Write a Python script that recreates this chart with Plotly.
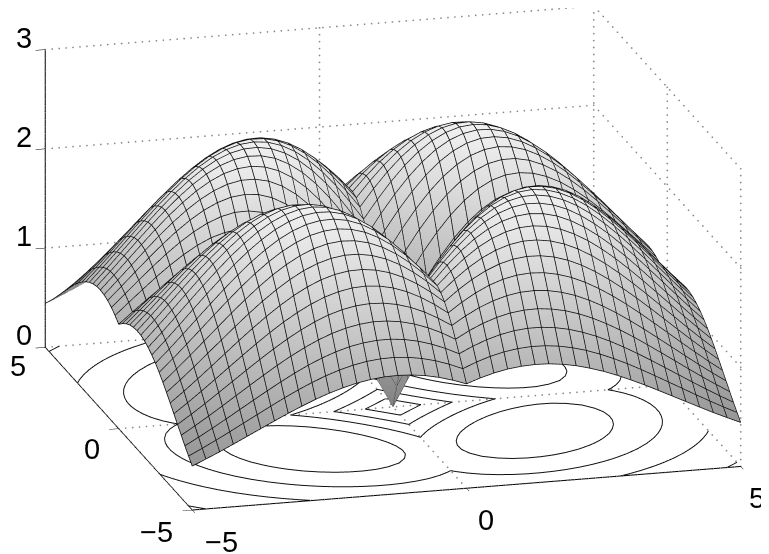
"""Surface with a contour map on the floor, grey box and dotted grid."""
import numpy as np
import plotly.graph_objects as go

# heights read for one quadrant, x and y from 0 to 5 in steps of 0.25
# row i holds columns j = i..20, the other quadrants mirror it
QUADRANT = [
    [0, .249, .492, .724, .939, 1.134, 1.303, 1.445, 1.558, 1.640, 1.692, 1.714, 1.709, 1.680, 1.628, 1.557, 1.472, 1.374, 1.269, 1.160, 1.048],
    [.496, .735, .962, 1.170, 1.355, 1.514, 1.645, 1.745, 1.815, 1.853, 1.863, 1.844, 1.802, 1.737, 1.654, 1.557, 1.450, 1.334, 1.216, 1.096],
    [.969, 1.188, 1.387, 1.563, 1.711, 1.829, 1.917, 1.973, 1.998, 1.995, 1.963, 1.908, 1.831, 1.737, 1.630, 1.512, 1.388, 1.262, 1.135],
    [1.398, 1.587, 1.751, 1.887, 1.993, 2.068, 2.111, 2.123, 2.107, 2.063, 1.996, 1.908, 1.804, 1.687, 1.561, 1.429, 1.296, 1.164],
    [1.765, 1.917, 2.040, 2.133, 2.195, 2.225, 2.225, 2.196, 2.141, 2.063, 1.966, 1.853, 1.728, 1.595, 1.457, 1.318, 1.181],
    [2.057, 2.167, 2.247, 2.296, 2.314, 2.301, 2.262, 2.196, 2.109, 2.003, 1.883, 1.752, 1.613, 1.471, 1.328, 1.188],
    [2.264, 2.332, 2.368, 2.374, 2.351, 2.302, 2.228, 2.133, 2.020, 1.894, 1.758, 1.616, 1.470, 1.325, 1.184],
    [2.387, 2.412, 2.407, 2.375, 2.317, 2.235, 2.134, 2.016, 1.886, 1.747, 1.602, 1.455, 1.310, 1.168],
    [2.426, 2.412, 2.371, 2.306, 2.219, 2.113, 1.992, 1.859, 1.719, 1.574, 1.428, 1.283, 1.143],
    [2.390, 2.342, 2.272, 2.180, 2.072, 1.949, 1.816, 1.676, 1.532, 1.387, 1.245, 1.107],
    [2.289, 2.214, 2.120, 2.011, 1.888, 1.756, 1.618, 1.477, 1.336, 1.197, 1.064],
    [2.137, 2.042, 1.933, 1.812, 1.682, 1.548, 1.411, 1.275, 1.141, 1.013],
    [1.948, 1.840, 1.722, 1.597, 1.467, 1.336, 1.205, 1.078, .955],
    [1.736, 1.622, 1.502, 1.378, 1.254, 1.129, 1.009, .894],
    [1.514, 1.400, 1.283, 1.165, 1.049, .936, .828],
    [1.293, 1.184, 1.074, .966, .861, .761],
    [1.083, .982, .882, .786, .694],
    [.889, .798, .710, .627],
    [.716, .637, .561],
    [.566, .499],
    [.439],
]
GRID_STEP = 0.25
CONTOUR_LEVELS = [0.5, 1.0, 1.5, 2.0]
X_TICKS = [-5, 0, 5]
Y_TICKS = [-5, 0, 5]
Z_TICKS = [0, 1, 2, 3]
X_LABELS = ["\u22125", "0", "5"]
Y_LABELS = ["\u22125", "0", "5"]
Z_LABELS = ["0", "1", "2", "3"]

n = len(QUADRANT)
quad = np.zeros((n, n))
for i, row in enumerate(QUADRANT):
    for j, v in enumerate(row):
        quad[i, i + j] = v
        quad[i + j, i] = v
z = np.vstack([quad[:0:-1], quad])
z = np.hstack([z[:, :0:-1], z])
xs = np.arange(-n + 1, n) * GRID_STEP
ys = xs.copy()


def contour_segments(level):
    """Marching squares over the height table, returns x and y with gaps."""
    out_x, out_y = [], []
    for i in range(len(ys) - 1):
        for j in range(len(xs) - 1):
            corners = [(xs[j], ys[i], z[i, j]), (xs[j + 1], ys[i], z[i, j + 1]),
                       (xs[j + 1], ys[i + 1], z[i + 1, j + 1]), (xs[j], ys[i + 1], z[i + 1, j])]
            hits = []
            for k in range(4):
                a, b = corners[k], corners[(k + 1) % 4]
                if (a[2] - level) * (b[2] - level) < 0:
                    t = (level - a[2]) / (b[2] - a[2])
                    hits.append((a[0] + t * (b[0] - a[0]), a[1] + t * (b[1] - a[1])))
            for p in range(0, len(hits) - 1, 2):
                out_x += [hits[p][0], hits[p + 1][0], None]
                out_y += [hits[p][1], hits[p + 1][1], None]
    return out_x, out_y


fig = go.Figure()

# dotted grid on the floor and the two back walls, one marker per dot
gx, gy, gz = [], [], []


def add_dotted(p0, p1, count):
    for t in np.linspace(0, 1, count):
        gx.append(p0[0] + t * (p1[0] - p0[0]))
        gy.append(p0[1] + t * (p1[1] - p0[1]))
        gz.append(p0[2] + t * (p1[2] - p0[2]))


for t in X_TICKS:
    add_dotted((t, -5, 0), (t, 5, 0), 32)
    add_dotted((t, 5, 0), (t, 5, 3), 44)
for t in Y_TICKS:
    add_dotted((-5, t, 0), (5, t, 0), 80)
    add_dotted((5, t, 0), (5, t, 3), 44)
for t in Z_TICKS:
    add_dotted((-5, 5, t), (5, 5, t), 80)
    add_dotted((5, -5, t), (5, 5, t), 32)
fig.add_trace(go.Scatter3d(x=gx, y=gy, z=gz, mode="markers", hoverinfo="skip", showlegend=False,
                           marker={"color": "#8a8a8a", "size": 1, "line": {"width": 0}}))

cx, cy = [], []
for level in CONTOUR_LEVELS:
    sx, sy = contour_segments(level)
    cx += sx
    cy += sy
fig.add_trace(go.Scatter3d(x=cx, y=cy, z=[None if v is None else 0 for v in cx], mode="lines",
                           hoverinfo="skip", showlegend=False, line={"color": "#111111", "width": 2}))

fig.add_trace(go.Surface(
    x=xs, y=ys, z=z,
    cmin=0, cmax=2.43,
    colorscale=[[0, "rgb(130,130,130)"], [1, "rgb(240,240,240)"]],
    showscale=False,
    hoverinfo="skip",
    lighting={"ambient": 1, "diffuse": 0, "specular": 0, "roughness": 1, "fresnel": 0},
))

# mesh lines of the table, drawn a hair above the surface so they stay heavy
LIFT = 0.004
mx, my, mz = [], [], []
for i, y in enumerate(ys):
    mx += list(xs) + [None]
    my += [y] * len(xs) + [None]
    mz += list(z[i, :] + LIFT) + [None]
for j, x in enumerate(xs):
    mx += [x] * len(ys) + [None]
    my += list(ys) + [None]
    mz += list(z[:, j] + LIFT) + [None]
fig.add_trace(go.Scatter3d(x=mx, y=my, z=mz, mode="lines", hoverinfo="skip", showlegend=False,
                           line={"color": "#101010", "width": 1.6}))

axis_style = {
    "showbackground": False,
    "showgrid": False,
    "zeroline": False,
    "showline": True,
    "linecolor": "black",
    "linewidth": 2,
    "ticks": "outside",
    "ticklen": 10,
    "tickcolor": "black",
    "tickwidth": 1,
    "showticklabels": False,
    "title": {"text": ""},
    "showspikes": False,
}

label_font = {"family": "Liberation Sans", "size": 29, "color": "black"}
labels = []
for t, s, shift in zip(X_TICKS, X_LABELS, [(29, -32), (20, -32)]):
    labels.append({"x": t, "y": -5, "z": 0, "text": s, "showarrow": False, "font": label_font, "xshift": shift[0], "yshift": shift[1]})
# the last x label sits against the page edge, anchor it by its right side
labels.append({"x": X_TICKS[2], "y": -5, "z": 0, "text": X_LABELS[2], "showarrow": False, "font": label_font,
               "xanchor": "right", "xshift": 26, "yshift": -32})
for t, s, shift in zip(Y_TICKS, Y_LABELS, [(-36, -22), (-27, -20), (-27, -19)]):
    labels.append({"x": -5, "y": t, "z": 0, "text": s, "showarrow": False, "font": label_font, "xshift": shift[0], "yshift": shift[1]})
for t, s in zip(Z_TICKS, Z_LABELS):
    labels.append({"x": -5, "y": 5, "z": t, "text": s, "showarrow": False, "font": label_font, "xshift": -21, "yshift": 12})

zoom = 2.05
fig.update_layout(
    width=769,
    height=554,
    margin={"l": 0, "r": 0, "t": 0, "b": 0},
    paper_bgcolor="white",
    showlegend=False,
    scene={
        "domain": {"x": [0, 1], "y": [0, 1]},
        "aspectmode": "manual",
        "aspectratio": {"x": zoom, "y": zoom, "z": 0.549 * zoom},
        "camera": {
            "projection": {"type": "orthographic"},
            "up": {"x": 0, "y": 0, "z": 1},
            "center": {"x": -0.0009 * zoom, "y": 0, "z": -0.0497 * zoom},
            "eye": {"x": -0.2472 * 2 - 0.0009 * zoom, "y": -0.9225 * 2, "z": 0.2967 * 2 - 0.0497 * zoom},
        },
        "xaxis": {**axis_style, "range": [-5, 5], "tickvals": X_TICKS},
        "yaxis": {**axis_style, "range": [-5, 5], "tickvals": Y_TICKS},
        "zaxis": {**axis_style, "range": [0, 3], "tickvals": Z_TICKS},
        "annotations": labels,
    },
)

fig.write_html("out.html")
